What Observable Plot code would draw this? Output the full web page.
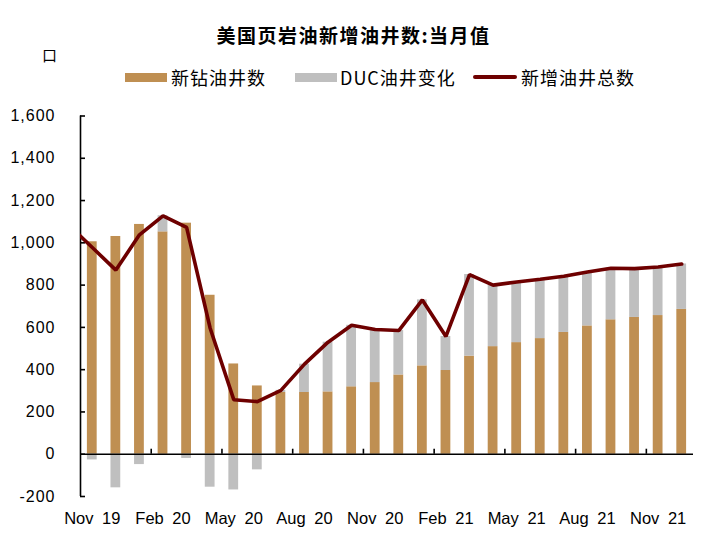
<!DOCTYPE html>
<html><head><meta charset="utf-8">
<script src="https://cdn.jsdelivr.net/npm/d3@7"></script>
<script src="https://cdn.jsdelivr.net/npm/@observablehq/plot@0.6"></script>
<style>
body{margin:0;background:#fff;}
#wrap{position:relative;width:707px;height:543px;font-family:"Noto Sans CJK SC","Noto Sans",sans-serif;color:#000;}
#title{position:absolute;left:0;width:707px;top:22px;text-align:center;font-size:19px;font-weight:bold;letter-spacing:1.5px;line-height:26px;}
#unit{position:absolute;left:42px;top:45px;font-size:15px;line-height:20px;}
.lg{position:absolute;top:66px;font-size:18px;line-height:22px;letter-spacing:1px;white-space:nowrap;}
.sw{position:absolute;}
#chart{position:absolute;left:0;top:0;}
#chart svg text{font-family:"Liberation Sans",Arial,sans-serif;}
g[aria-label="x-axis tick label"] text{word-spacing:4px;}
g[aria-label="y-axis tick label"] text{letter-spacing:1px;}
</style></head><body>
<div id="wrap">
  <div id="chart"></div>
  <div id="title">美国页岩油新增油井数:当月值</div>
  <div id="unit">口</div>
  <div class="sw" style="left:125px;top:73px;width:42px;height:9px;background:#BF8F52"></div>
  <div class="lg" style="left:171px">新钻油井数</div>
  <div class="sw" style="left:295px;top:73px;width:42px;height:9px;background:#BFBFBF"></div>
  <div class="lg" style="left:340px">DUC油井变化</div>
  <div class="sw" style="left:473px;top:75px;width:44px;height:4px;background:#6E0000;border-radius:2px"></div>
  <div class="lg" style="left:521px">新增油井总数</div>
</div>
<script>
const months = ["Nov 19","Dec 19","Jan 20","Feb 20","Mar 20","Apr 20","May 20","Jun 20","Jul 20","Aug 20","Sep 20","Oct 20","Nov 20","Dec 20","Jan 21","Feb 21","Mar 21","Apr 21","May 21","Jun 21","Jul 21","Aug 21","Sep 21","Oct 21","Nov 21","Dec 21"];
const drilled = [1005,1030,1087,1052,1093,752,427,323,292,292,295,319,339,375,418,396,464,509,528,547,576,607,636,647,656,685];
const ducChange = [-27,-159,-49,76,-20,-156,-169,-74,10,134,235,291,251,210,312,161,386,291,287,281,266,255,244,231,230,215];
// total line; first value is Oct 19 (line enters from the left edge)
const totalMonths = ["Oct 19", ...months];
const totalWells = [1085,978,871,1038,1128,1073,596,258,249,302,426,530,610,590,585,730,557,850,800,815,828,842,862,880,878,886,900];
const yTicks = [-200,0,200,400,600,800,1000,1200,1400,1600];
const labelIdx = [0,3,6,9,12,15,18,21,24];

const n = months.length;
const rows = months.map((m,i)=>({i, m, drilled: drilled[i], duc: ducChange[i]}));
const lineRows = totalWells.map((v,k)=>({i: k - 1, m: totalMonths[k], v}));
const boundaries = d3.range(2.5, n - 0.5, 3);
const inset = 6.9;

const chart = Plot.plot({
  width: 707, height: 543,
  marginTop: 115.5, marginBottom: 47, marginLeft: 80, marginRight: 14,
  x: {type: "linear", domain: [-0.5, n - 0.5], label: null},
  y: {domain: [-200, 1600], label: null},
  marks: [
    Plot.rectY(rows, {x1: d => d.i - 0.5, x2: d => d.i + 0.5, y1: 0, y2: "drilled", fill: "#BF8F52", insetLeft: inset, insetRight: inset}),
    Plot.rectY(rows, {x1: d => d.i - 0.5, x2: d => d.i + 0.5,
      y1: d => d.duc >= 0 ? d.drilled : 0,
      y2: d => d.duc >= 0 ? d.drilled + d.duc : d.duc,
      fill: "#BFBFBF", insetLeft: inset, insetRight: inset}),
    Plot.ruleY([0], {stroke: "#000", strokeWidth: 1.6}),
    Plot.ruleX([-0.5], {y1: -200, y2: 1600, stroke: "#000", strokeWidth: 1.6}),
    Plot.ruleY(yTicks, {x1: -0.5, x2: -0.5, insetRight: -5, stroke: "#000", strokeWidth: 1.6}),
    Plot.ruleX(boundaries, {y1: 0, y2: 0, insetBottom: 5, stroke: "#000", strokeWidth: 1.6}),
    Plot.line(lineRows, {x: "i", y: "v", stroke: "#6E0000", strokeWidth: 3.6, strokeLinejoin: "miter", clip: true}),
    Plot.axisY({ticks: yTicks, tickSize: 0, tickPadding: 25, label: null, tickFormat: d => d3.format(",")(d).replace("−","-"), fontSize: 16}),
    Plot.axisX({ticks: labelIdx, tickSize: 0, tickPadding: 16, label: null, tickFormat: i => months[i], fontSize: 16.5})
  ]
});
document.getElementById("chart").appendChild(chart);
</script>
</body></html>
